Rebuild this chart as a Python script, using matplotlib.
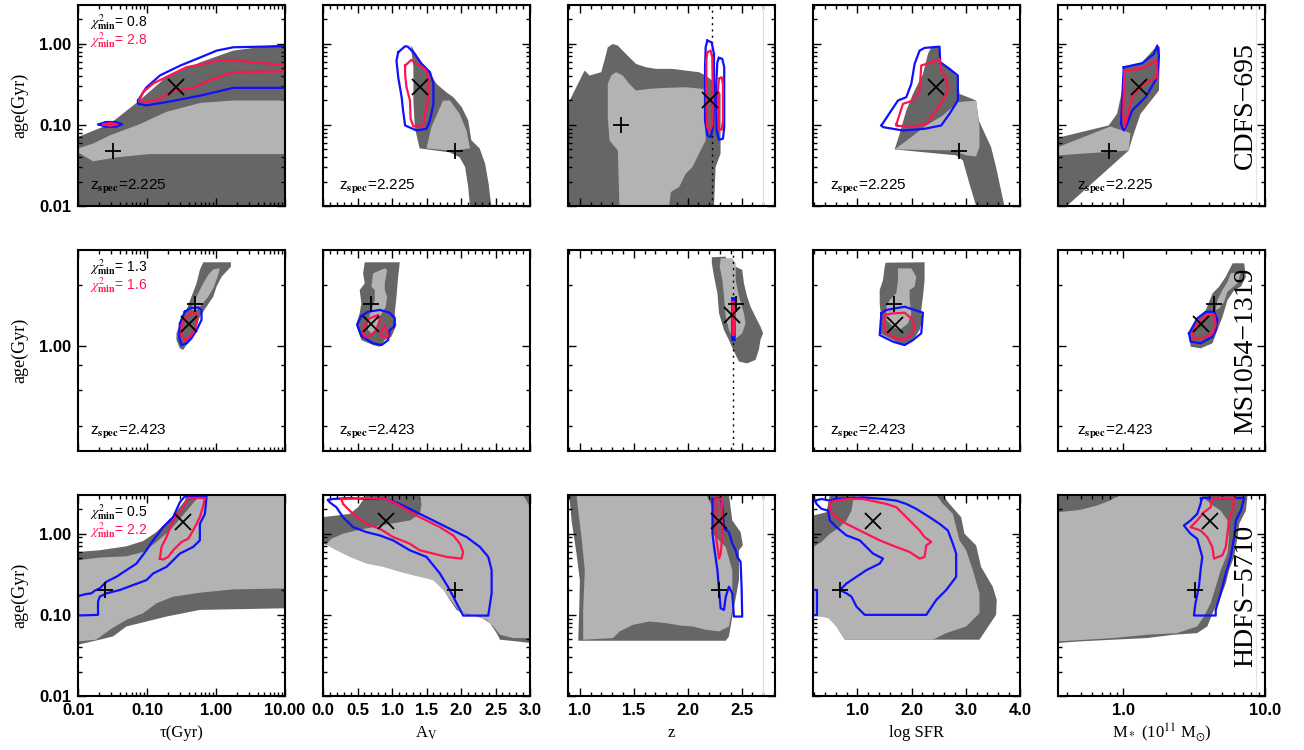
import numpy as np
import matplotlib.pyplot as plt

plt.rcParams['font.family'] = ['Liberation Sans', 'DejaVu Sans']
plt.rcParams['mathtext.fontset'] = 'stix'

# rows / columns of the figure
galaxies = ['CDFS\u2212695', 'MS1054\u22121319', 'HDFS\u22125710']
z_spec = [2.225, 2.423, None]
chi2_blue = [0.8, 1.3, 0.5]
chi2_red = [2.8, 1.6, 2.2]
params = ['tau', 'av', 'z', 'sfr', 'mass']
x_labels = ['\u03c4(Gyr)', r'A$_{\rm V}$', 'z', 'log SFR', r'M$_*$ (10$^{11}$ M$_{\odot}$)']

# best fit (x) and second solution (+)
tau_cross = [0.26, 0.40, 0.33]
tau_plus = [0.032, 0.49, 0.025]
av_cross = [1.40, 0.69, 0.91]
av_plus = [1.91, 0.70, 1.91]
z_cross = [2.21, 2.41, 2.29]
z_plus = [1.38, 2.45, 2.29]
sfr_cross = [2.45, 1.69, 1.28]
sfr_plus = [2.87, 1.68, 0.68]
mass_cross = [1.28, 3.56, 4.08]
mass_plus = [0.79, 4.37, 3.2]
age_cross = [[0.29, 0.29, 0.20, 0.29, 0.29],
             [1.29, 1.28, 1.43, 1.27, 1.29],
             [1.39, 1.43, 1.43, 1.43, 1.43]]
age_plus = [[0.048, 0.048, 0.10, 0.048, 0.048],
            [1.61, 1.61, 1.61, 1.61, 1.61],
            [0.20, 0.20, 0.20, 0.20, 0.20]]

# confidence regions. tau, mass and age are log10 values
# ---- CDFS-695
cdfs_tau_dark = [(-2, -1.15), (-1.54, -0.99), (-1.11, -0.70), (-0.72, -0.41), (-0.23, -0.23), (0.25, -0.085), (1.0, 0.0), (1.0, -2.0), (-2, -2.0)]
cdfs_tau_light = [(-2, -1.29), (-1.78, -1.23), (-1.54, -1.13), (-1.10, -0.99), (-0.72, -0.84), (-0.23, -0.73), (0.25, -0.70), (1.0, -0.70), (1.0, -1.36), (-0.23, -1.36), (-0.96, -1.36), (-1.44, -1.40), (-1.78, -1.45), (-2, -1.34)]
cdfs_tau_blue = [(-1.13, -0.70), (-1.01, -0.54), (-0.81, -0.39), (-0.52, -0.27), (-0.23, -0.17), (0.01, -0.085), (0.25, -0.044), (1.0, -0.03), (1.0, -0.544), (0.25, -0.544), (-0.23, -0.64), (-0.72, -0.72), (-1.01, -0.76), (-1.13, -0.74)]
cdfs_tau_blue2 = [(-1.70, -0.994), (-1.60, -0.965), (-1.45, -0.965), (-1.36, -0.994), (-1.45, -1.023), (-1.60, -1.023)]
cdfs_tau_red = [(-1.11, -0.70), (-1.06, -0.60), (-0.91, -0.49), (-0.67, -0.39), (-0.43, -0.29), (-0.19, -0.25), (0.01, -0.21), (0.25, -0.20), (0.54, -0.23), (1.0, -0.26), (1.0, -0.34), (0.25, -0.35), (-0.09, -0.45), (-0.33, -0.544), (-0.62, -0.58), (-0.81, -0.68), (-1.01, -0.72)]
cdfs_tau_red2 = [(-1.63, -0.994), (-1.53, -0.977), (-1.43, -0.994), (-1.53, -1.011)]

cdfs_av_dark = [(1.28, -0.023), (1.40, -0.21), (1.50, -0.29), (1.645, -0.495), (1.79, -0.60), (1.89, -0.66), (2.01, -0.78), (2.105, -0.946), (2.15, -1.19), (2.27, -1.29), (2.35, -1.48), (2.40, -1.725), (2.44, -2.0), (2.13, -2.0), (2.105, -1.77), (2.06, -1.52), (1.98, -1.40), (1.84, -1.34), (1.40, -1.29), (1.33, -1.03), (1.31, -0.70), (1.31, -0.29), (1.28, -0.085)]
cdfs_av_light = [(1.74, -0.70), (1.84, -0.70), (1.98, -0.864), (2.08, -1.07), (2.13, -1.29), (1.89, -1.32), (1.50, -1.29), (1.57, -1.03)]
cdfs_av_blue = [(1.09, -0.105), (1.19, -0.031), (1.23, -0.036), (1.33, -0.126), (1.43, -0.249), (1.55, -0.351), (1.60, -0.495), (1.60, -0.741), (1.55, -0.946), (1.50, -1.049), (1.355, -1.069), (1.19, -1.007), (1.16, -0.823), (1.14, -0.659), (1.09, -0.413), (1.065, -0.208)]
cdfs_av_red = [(1.19, -0.269), (1.28, -0.20), (1.355, -0.249), (1.48, -0.31), (1.52, -0.392), (1.52, -0.70), (1.48, -0.864), (1.45, -1.007), (1.31, -1.02), (1.27, -0.925), (1.26, -0.70), (1.21, -0.536), (1.19, -0.372)]

cdfs_z_dark = [(0.89, -2.0), (0.89, -0.741), (0.967, -0.536), (1.044, -0.331), (1.09, -0.392), (1.198, -0.351), (1.228, -0.208), (1.259, -0.044), (1.305, -0.003), (1.352, -0.023), (1.428, -0.126), (1.521, -0.249), (1.613, -0.29), (1.705, -0.31), (1.859, -0.31), (1.982, -0.331), (2.105, -0.351), (2.167, -0.392), (2.228, -0.454), (2.259, -0.495), (2.305, -0.618), (2.305, -1.356), (2.259, -1.52), (2.244, -2.0)]
cdfs_z_light = [(1.259, -0.495), (1.29, -0.392), (1.336, -0.351), (1.398, -0.392), (1.459, -0.495), (1.521, -0.577), (1.644, -0.556), (1.798, -0.544), (1.982, -0.536), (2.136, -0.556), (2.167, -0.577), (2.167, -1.192), (2.105, -1.356), (2.044, -1.52), (1.982, -1.602), (1.921, -1.766), (1.844, -1.828), (1.828, -2.0), (1.367, -2.0), (1.352, -1.315), (1.275, -1.192), (1.259, -0.905)]
cdfs_z_blue = [(2.182, 0.038), (2.222, 0.018), (2.244, -0.126), (2.244, -0.70), (2.235, -1.028), (2.213, -1.151), (2.182, -1.13), (2.161, -0.946), (2.161, -0.29), (2.167, -0.044)]
cdfs_z_blue2 = [(2.29, -0.175), (2.321, -0.187), (2.339, -0.29), (2.339, -1.028), (2.327, -1.171), (2.29, -1.184), (2.268, -1.069), (2.265, -0.495), (2.275, -0.228)]
cdfs_z_red = [(2.182, -0.105), (2.213, -0.085), (2.228, -0.167), (2.235, -0.70), (2.228, -1.007), (2.204, -1.069), (2.182, -1.028), (2.173, -0.70), (2.173, -0.208)]
cdfs_z_red2 = [(2.29, -0.433), (2.315, -0.413), (2.327, -0.495), (2.327, -0.946), (2.315, -1.061), (2.29, -1.049), (2.281, -0.823), (2.281, -0.577)]

cdfs_sfr_dark = [(2.362, -0.044), (2.515, -0.044), (2.546, -0.249), (2.73, -0.331), (2.853, -0.413), (2.883, -0.618), (3.19, -0.70), (3.239, -0.946), (3.466, -1.274), (3.558, -1.52), (3.65, -1.807), (3.712, -2.0), (3.19, -2.0), (3.067, -1.725), (2.945, -1.438), (2.822, -1.376), (1.687, -1.303), (1.779, -1.11), (1.902, -0.823), (2.025, -0.618), (2.209, -0.372), (2.301, -0.126)]
cdfs_sfr_light = [(1.687, -1.303), (1.994, -1.151), (2.27, -1.007), (2.577, -0.885), (2.853, -0.72), (3.19, -0.70), (3.252, -1.028), (3.252, -1.274), (3.19, -1.389), (3.006, -1.376), (2.761, -1.315)]
cdfs_sfr_blue = [(1.442, -1.007), (1.748, -0.70), (1.902, -0.659), (1.994, -0.495), (2.055, -0.249), (2.147, -0.085), (2.239, -0.052), (2.515, -0.036), (2.528, -0.228), (2.699, -0.31), (2.853, -0.392), (2.853, -0.70), (2.699, -0.864), (2.546, -1.007), (2.239, -1.049), (1.84, -1.069), (1.472, -1.028)]
cdfs_sfr_red = [(1.718, -0.995), (1.84, -0.741), (2.025, -0.70), (2.147, -0.577), (2.178, -0.269), (2.362, -0.228), (2.515, -0.187), (2.546, -0.331), (2.638, -0.413), (2.669, -0.577), (2.577, -0.70), (2.454, -0.823), (2.27, -0.987), (2.025, -1.02), (1.718, -1.011)]

cdfs_mass_dark = [(-0.462, -1.159), (-0.104, -1.007), (-0.045, -0.864), (-0.009, -0.577), (0.002, -0.29), (0.132, -0.228), (0.239, -0.023), (0.258, -0.044), (0.251, -0.577), (0.121, -0.864), (0.061, -1.171), (0.038, -1.315), (-0.40, -2.0), (-0.462, -2.0)]
cdfs_mass_light = [(-0.462, -1.274), (-0.092, -1.02), (0.050, -1.102), (0.038, -1.315), (-0.462, -1.376)]
cdfs_mass_blue = [(0.002, -0.29), (0.132, -0.241), (0.215, -0.126), (0.239, -0.023), (0.251, -0.146), (0.239, -0.413), (0.156, -0.659), (0.061, -0.823), (0.026, -0.987), (0.002, -1.069), (-0.017, -0.987), (-0.009, -0.70)]
cdfs_mass_red = [(0.007, -0.331), (0.132, -0.31), (0.234, -0.2), (0.239, -0.413), (0.144, -0.495), (0.061, -0.659), (0.026, -0.905), (0.007, -1.028), (-0.002, -0.864)]

# ---- MS1054-1319
ms_tau_dark = [(-0.185, 0.416), (0.216, 0.416), (0.216, 0.394), (0.081, 0.344), (0.008, 0.295), (-0.04, 0.245), (-0.137, 0.195), (-0.234, 0.145), (-0.282, 0.096), (-0.379, 0.029), (-0.476, -0.02), (-0.524, -0.012), (-0.573, 0.029), (-0.573, 0.063), (-0.50, 0.129), (-0.427, 0.179), (-0.355, 0.245), (-0.282, 0.311), (-0.234, 0.378)]
ms_tau_light = [(-0.04, 0.381), (0.057, 0.386), (0.032, 0.353), (-0.04, 0.286), (-0.113, 0.245), (-0.21, 0.203), (-0.282, 0.179), (-0.355, 0.179), (-0.331, 0.212), (-0.258, 0.262), (-0.185, 0.311), (-0.113, 0.353)]
ms_tau_blue = [(-0.452, 0.17), (-0.379, 0.187), (-0.258, 0.192), (-0.21, 0.179), (-0.21, 0.129), (-0.282, 0.079), (-0.355, 0.038), (-0.427, 0.013), (-0.50, 0.004), (-0.534, 0.046), (-0.524, 0.112)]
ms_tau_red = [(-0.427, 0.145), (-0.355, 0.162), (-0.282, 0.162), (-0.273, 0.129), (-0.306, 0.079), (-0.379, 0.046), (-0.452, 0.029), (-0.50, 0.054), (-0.50, 0.104)]

ms_av_dark = [(0.605, 0.416), (1.113, 0.416), (1.089, 0.344), (1.065, 0.245), (1.040, 0.162), (1.065, 0.104), (0.992, 0.046), (0.895, 0.029), (0.823, -0.004), (0.726, 0.004), (0.556, 0.029), (0.508, 0.079), (0.484, 0.112), (0.532, 0.162), (0.556, 0.212), (0.532, 0.278), (0.605, 0.311), (0.581, 0.361)]
ms_av_light = [(0.726, 0.361), (0.895, 0.386), (0.929, 0.378), (0.895, 0.311), (0.895, 0.278), (0.929, 0.245), (0.910, 0.195), (0.823, 0.145), (0.765, 0.079), (0.702, 0.063), (0.653, 0.079), (0.653, 0.129), (0.702, 0.179), (0.75, 0.228), (0.75, 0.278), (0.702, 0.295)]
ms_av_blue = [(0.556, 0.149), (0.653, 0.17), (0.823, 0.179), (0.968, 0.165), (1.040, 0.137), (1.031, 0.096), (0.968, 0.079), (0.944, 0.029), (0.847, 0.004), (0.726, 0.013), (0.556, 0.049), (0.494, 0.104)]
ms_av_red = [(0.605, 0.104), (0.677, 0.137), (0.798, 0.154), (0.823, 0.129), (0.774, 0.079), (0.702, 0.054), (0.605, 0.046), (0.581, 0.071)]
ms_av_red2 = [(0.895, 0.099), (0.929, 0.071), (0.944, 0.049), (0.847, 0.049), (0.847, 0.071)]

ms_z_dark = [(2.224, 0.441), (2.353, 0.444), (2.368, 0.411), (2.445, 0.394), (2.506, 0.378), (2.522, 0.311), (2.552, 0.245), (2.583, 0.195), (2.629, 0.145), (2.675, 0.096), (2.70, 0.063), (2.675, 0.029), (2.66, -0.02), (2.629, -0.07), (2.552, -0.087), (2.476, -0.078), (2.423, -0.02), (2.383, 0.029), (2.337, 0.079), (2.291, 0.162), (2.276, 0.262), (2.245, 0.344), (2.224, 0.411)]
ms_z_light = [(2.306, 0.436), (2.414, 0.436), (2.445, 0.411), (2.445, 0.328), (2.476, 0.245), (2.522, 0.162), (2.537, 0.112), (2.506, 0.063), (2.429, 0.029), (2.383, 0.079), (2.353, 0.145), (2.337, 0.245), (2.322, 0.328), (2.297, 0.394)]
ms_z_blue = [(2.414, 0.237), (2.432, 0.237), (2.436, 0.029), (2.414, 0.029)]
ms_z_red = [(2.417, 0.22), (2.429, 0.22), (2.429, 0.054), (2.417, 0.054)]

ms_sfr_dark = [(1.521, 0.414), (2.239, 0.416), (2.239, 0.328), (2.209, 0.245), (2.178, 0.179), (2.196, 0.129), (2.147, 0.079), (2.025, 0.029), (1.871, 0.004), (1.718, 0.021), (1.534, 0.046), (1.411, 0.063), (1.442, 0.129), (1.411, 0.212), (1.411, 0.278), (1.472, 0.328), (1.503, 0.394)]
ms_sfr_light = [(1.748, 0.386), (1.994, 0.386), (2.086, 0.344), (2.055, 0.295), (1.963, 0.278), (1.963, 0.228), (1.994, 0.162), (1.933, 0.112), (1.779, 0.079), (1.656, 0.096), (1.534, 0.129), (1.534, 0.195), (1.595, 0.228), (1.718, 0.262), (1.748, 0.328)]
ms_sfr_blue = [(1.442, 0.162), (1.534, 0.179), (1.871, 0.195), (2.209, 0.165), (2.178, 0.063), (2.025, 0.029), (1.871, 0.004), (1.656, 0.021), (1.411, 0.054)]
ms_sfr_red = [(1.503, 0.154), (1.656, 0.162), (1.871, 0.165), (2.025, 0.129), (2.055, 0.087), (1.963, 0.046), (1.779, 0.029), (1.534, 0.063), (1.485, 0.112)]

ms_mass_dark = [(0.771, 0.411), (0.853, 0.411), (0.865, 0.344), (0.830, 0.295), (0.783, 0.278), (0.735, 0.228), (0.70, 0.145), (0.664, 0.079), (0.629, 0.013), (0.546, -0.012), (0.475, -0.004), (0.463, 0.062), (0.522, 0.129), (0.582, 0.178), (0.629, 0.261), (0.676, 0.295), (0.723, 0.344)]
ms_mass_light = [(0.759, 0.361), (0.830, 0.369), (0.806, 0.311), (0.735, 0.27), (0.712, 0.22), (0.676, 0.187), (0.652, 0.178), (0.664, 0.228), (0.70, 0.278), (0.735, 0.319)]
ms_mass_blue = [(0.463, 0.062), (0.522, 0.137), (0.582, 0.17), (0.641, 0.17), (0.664, 0.129), (0.652, 0.079), (0.629, 0.046), (0.546, 0.013), (0.475, 0.021)]
ms_mass_red = [(0.487, 0.062), (0.534, 0.12), (0.593, 0.154), (0.641, 0.154), (0.652, 0.104), (0.629, 0.062), (0.558, 0.038), (0.499, 0.038)]

# ---- HDFS-5710
hdfs_tau_dark = [(-2, -0.225), (-1.685, -0.204), (-1.298, -0.155), (-1.056, -0.09), (-0.863, 0.02), (-0.621, 0.224), (-0.452, 0.408), (-0.427, 0.477), (1.0, 0.477), (1.0, -0.919), (0.25, -0.931), (-0.234, -0.939), (-0.718, -1.021), (-1.008, -1.082), (-1.298, -1.143), (-1.492, -1.266), (-1.685, -1.306), (-2, -1.368)]
hdfs_tau_light = [(-2, -0.327), (-1.685, -0.294), (-1.298, -0.278), (-1.056, -0.225), (-0.863, -0.102), (-0.669, 0.04), (-0.524, 0.183), (-0.379, 0.326), (-0.282, 0.428), (-0.282, 0.477), (1.0, 0.477), (1.0, -0.674), (0.25, -0.686), (-0.234, -0.727), (-0.621, -0.776), (-0.863, -0.857), (-1.056, -0.98), (-1.298, -1.061), (-1.54, -1.184), (-1.734, -1.306), (-2, -1.327)]
hdfs_tau_blue = [(-2, -0.768), (-1.879, -0.743), (-1.806, -0.735), (-1.758, -0.702), (-1.685, -0.674), (-1.589, -0.592), (-1.444, -0.531), (-1.298, -0.449), (-1.153, -0.368), (-1.008, -0.204), (-0.911, -0.082), (-0.766, 0.081), (-0.621, 0.204), (-0.524, 0.387), (-0.452, 0.46), (-0.137, 0.46), (-0.161, 0.244), (-0.234, 0.122), (-0.234, -0.082), (-0.331, -0.163), (-0.524, -0.245), (-0.718, -0.409), (-0.911, -0.49), (-1.008, -0.572), (-1.202, -0.633), (-1.395, -0.694), (-1.589, -0.735), (-1.685, -0.776), (-1.71, -0.837), (-1.71, -1.0), (-2, -1.008)]
hdfs_tau_red = [(-0.814, -0.307), (-0.79, -0.163), (-0.718, -0.041), (-0.621, 0.163), (-0.476, 0.326), (-0.403, 0.44), (-0.161, 0.44), (-0.185, 0.346), (-0.234, 0.204), (-0.331, 0.04), (-0.403, -0.062), (-0.50, -0.102), (-0.621, -0.204), (-0.693, -0.286), (-0.766, -0.319)]

hdfs_av_dark = [(0, 0.204), (0.194, 0.224), (0.387, 0.244), (0.508, 0.326), (0.629, 0.477), (3.0, 0.477), (3.0, -1.347), (2.807, -1.327), (2.565, -1.306), (2.516, -1.225), (2.42, -1.102), (2.274, -1.021), (2.081, -1.0), (1.936, -0.939), (1.839, -0.817), (1.694, -0.613), (1.50, -0.531), (1.307, -0.49), (1.065, -0.449), (0.823, -0.368), (0.581, -0.327), (0.29, -0.225), (0.145, -0.163), (0, -0.123)]
hdfs_av_light = [(0.048, -0.131), (0.121, -0.062), (0.29, 0.0), (0.484, 0.04), (0.726, 0.081), (0.968, 0.122), (1.258, 0.163), (1.403, 0.244), (1.428, 0.367), (1.403, 0.477), (2.903, 0.477), (3.0, 0.326), (3.0, -1.286), (2.758, -1.286), (2.565, -1.245), (2.468, -1.143), (2.371, -1.061), (2.178, -1.013), (1.984, -0.96), (1.887, -0.857), (1.742, -0.694), (1.597, -0.572), (1.355, -0.523), (1.113, -0.47), (0.871, -0.409), (0.629, -0.368), (0.387, -0.286), (0.242, -0.225), (0.121, -0.172)]
hdfs_av_blue = [(0.073, 0.416), (0.145, 0.428), (0.387, 0.44), (0.629, 0.428), (0.919, 0.428), (1.113, 0.367), (1.307, 0.285), (1.50, 0.204), (1.694, 0.122), (1.887, 0.04), (2.081, -0.041), (2.274, -0.163), (2.395, -0.286), (2.444, -0.449), (2.444, -0.735), (2.395, -1.009), (2.032, -1.009), (1.936, -0.857), (1.839, -0.694), (1.694, -0.49), (1.50, -0.286), (1.258, -0.204), (1.016, -0.082), (0.823, -0.021), (0.629, 0.02), (0.436, 0.081), (0.29, 0.204), (0.194, 0.326), (0.097, 0.387)]
hdfs_av_red = [(0.266, 0.428), (0.629, 0.44), (0.919, 0.428), (1.113, 0.346), (1.307, 0.244), (1.50, 0.163), (1.694, 0.081), (1.887, -0.021), (1.984, -0.123), (2.032, -0.225), (2.008, -0.307), (1.791, -0.286), (1.597, -0.245), (1.403, -0.204), (1.258, -0.123), (1.016, -0.041), (0.823, 0.061), (0.629, 0.122), (0.436, 0.244), (0.29, 0.367)]

hdfs_z_dark = [(0.902, 0.477), (2.383, 0.477), (2.414, 0.163), (2.491, 0.02), (2.512, -0.143), (2.476, -0.204), (2.476, -0.572), (2.414, -1.021), (2.383, -1.266), (2.353, -1.319), (0.985, -1.319), (0.994, -0.939), (1.0, -0.572), (0.969, -0.245), (0.923, 0.163)]
hdfs_z_light = [(0.969, 0.477), (2.174, 0.477), (2.23, 0.326), (2.23, 0.0), (2.353, -0.164), (2.414, -0.449), (2.414, -0.939), (2.383, -1.143), (2.291, -1.204), (2.168, -1.184), (2.045, -1.143), (1.953, -1.135), (1.799, -1.102), (1.646, -1.082), (1.492, -1.123), (1.369, -1.204), (1.307, -1.286), (1.031, -1.306), (1.031, -0.939), (1.046, -0.449), (1.015, -0.041), (0.985, 0.285)]
hdfs_z_blue = [(2.23, 0.428), (2.306, 0.44), (2.322, 0.326), (2.337, 0.061), (2.383, 0.02), (2.414, -0.123), (2.445, -0.204), (2.46, -0.286), (2.491, -0.347), (2.50, -0.653), (2.506, -1.021), (2.429, -1.021), (2.414, -0.735), (2.383, -0.653), (2.353, -0.776), (2.337, -0.939), (2.306, -0.919), (2.291, -0.694), (2.276, -0.449), (2.245, -0.164), (2.23, 0.0), (2.23, 0.163)]
hdfs_z_red = [(2.26, 0.428), (2.316, 0.428), (2.316, 0.244), (2.322, 0.0), (2.306, -0.245), (2.291, -0.307), (2.276, -0.164), (2.26, 0.0), (2.26, 0.244)]

hdfs_sfr_dark = [(0.18, 0.224), (0.429, 0.265), (0.491, 0.477), (2.577, 0.477), (2.699, 0.367), (2.914, 0.204), (2.975, 0.0), (3.19, -0.143), (3.282, -0.409), (3.497, -0.653), (3.571, -0.817), (3.558, -1.0), (3.252, -1.306), (0.767, -1.306), (0.613, -1.143), (0.491, -1.041), (0.276, -1.0), (0.18, -1.0)]
hdfs_sfr_light = [(0.982, 0.477), (2.454, 0.477), (2.577, 0.367), (2.761, 0.244), (2.822, 0.081), (2.883, -0.082), (3.006, -0.204), (3.129, -0.449), (3.252, -0.735), (3.252, -0.98), (3.006, -1.143), (2.638, -1.225), (2.393, -1.306), (0.767, -1.306), (0.613, -1.143), (0.46, -1.041), (0.18, -1.0), (0.18, -0.164), (0.337, -0.102), (0.491, 0.0), (0.675, 0.081), (0.798, 0.163), (0.89, 0.285), (0.92, 0.408)]
hdfs_sfr_blue = [(0.215, 0.408), (0.337, 0.428), (0.491, 0.408), (0.583, 0.428), (1.104, 0.448), (1.472, 0.428), (1.718, 0.408), (1.902, 0.367), (2.086, 0.306), (2.331, 0.204), (2.515, 0.122), (2.669, 0.04), (2.761, -0.123), (2.822, -0.245), (2.822, -0.531), (2.638, -0.694), (2.454, -0.817), (2.27, -1.0), (1.135, -1.0), (0.982, -0.898), (0.89, -0.776), (0.798, -0.735), (0.675, -0.694), (0.798, -0.613), (0.982, -0.531), (1.166, -0.449), (1.411, -0.368), (1.472, -0.307), (1.288, -0.245), (1.166, -0.164), (1.043, -0.082), (0.798, -0.021), (0.613, 0.081), (0.491, 0.163), (0.46, 0.285), (0.337, 0.306), (0.245, 0.367)]
hdfs_sfr_blue2 = [(0.18, -0.694), (0.245, -0.694), (0.245, -1.0), (0.18, -1.0)]
hdfs_sfr_red = [(0.491, 0.387), (0.613, 0.408), (0.798, 0.428), (1.104, 0.428), (1.534, 0.367), (1.718, 0.326), (2.025, 0.122), (2.147, 0.04), (2.239, -0.041), (2.362, -0.102), (2.27, -0.143), (2.239, -0.286), (2.147, -0.307), (1.963, -0.225), (1.718, -0.164), (1.411, -0.082), (1.227, -0.021), (1.043, 0.04), (0.798, 0.122), (0.613, 0.204), (0.521, 0.265), (0.491, 0.326)]

hdfs_mass_dark = [(-0.462, 0.477), (0.877, 0.477), (0.865, 0.285), (0.818, 0.122), (0.806, -0.041), (0.782, -0.286), (0.746, -0.449), (0.723, -0.613), (0.687, -0.776), (0.64, -0.939), (0.592, -1.143), (0.521, -1.225), (0.355, -1.245), (0.166, -1.286), (-0.071, -1.306), (-0.308, -1.327), (-0.462, -1.347)]
hdfs_mass_light = [(-0.462, 0.265), (-0.308, 0.293), (-0.19, 0.346), (-0.095, 0.408), (-0.024, 0.477), (0.545, 0.477), (0.616, 0.367), (0.687, 0.285), (0.735, 0.163), (0.746, -0.041), (0.735, -0.245), (0.687, -0.449), (0.652, -0.653), (0.616, -0.857), (0.569, -1.021), (0.521, -1.143), (0.379, -1.225), (0.166, -1.245), (-0.071, -1.286), (-0.462, -1.327)]
hdfs_mass_blue = [(0.55, 0.416), (0.545, 0.44), (0.853, 0.44), (0.829, 0.285), (0.794, 0.163), (0.782, -0.041), (0.758, -0.286), (0.723, -0.49), (0.687, -0.735), (0.652, -0.939), (0.652, -1.008), (0.498, -1.008), (0.509, -0.857), (0.533, -0.653), (0.545, -0.449), (0.557, -0.286), (0.521, -0.062), (0.474, 0.0), (0.427, 0.101), (0.474, 0.163), (0.521, 0.244), (0.545, 0.367)]
hdfs_mass_red = [(0.628, 0.44), (0.782, 0.44), (0.77, 0.285), (0.746, 0.163), (0.735, 0.0), (0.723, -0.164), (0.699, -0.266), (0.64, -0.307), (0.628, -0.164), (0.592, -0.041), (0.545, 0.04), (0.474, 0.081), (0.521, 0.163), (0.569, 0.265), (0.616, 0.326)]

# (dark, light, blue, red) per panel
shapes = [
    [([cdfs_tau_dark], [cdfs_tau_light], [cdfs_tau_blue, cdfs_tau_blue2], [cdfs_tau_red, cdfs_tau_red2]),
     ([cdfs_av_dark], [cdfs_av_light], [cdfs_av_blue], [cdfs_av_red]),
     ([cdfs_z_dark], [cdfs_z_light], [cdfs_z_blue, cdfs_z_blue2], [cdfs_z_red, cdfs_z_red2]),
     ([cdfs_sfr_dark], [cdfs_sfr_light], [cdfs_sfr_blue], [cdfs_sfr_red]),
     ([cdfs_mass_dark], [cdfs_mass_light], [cdfs_mass_blue], [cdfs_mass_red])],
    [([ms_tau_dark], [ms_tau_light], [ms_tau_blue], [ms_tau_red]),
     ([ms_av_dark], [ms_av_light], [ms_av_blue], [ms_av_red, ms_av_red2]),
     ([ms_z_dark], [ms_z_light], [ms_z_blue], [ms_z_red]),
     ([ms_sfr_dark], [ms_sfr_light], [ms_sfr_blue], [ms_sfr_red]),
     ([ms_mass_dark], [ms_mass_light], [ms_mass_blue], [ms_mass_red])],
    [([hdfs_tau_dark], [hdfs_tau_light], [hdfs_tau_blue], [hdfs_tau_red]),
     ([hdfs_av_dark], [hdfs_av_light], [hdfs_av_blue], [hdfs_av_red]),
     ([hdfs_z_dark], [hdfs_z_light], [hdfs_z_blue], [hdfs_z_red]),
     ([hdfs_sfr_dark], [hdfs_sfr_light], [hdfs_sfr_blue, hdfs_sfr_blue2], [hdfs_sfr_red]),
     ([hdfs_mass_dark], [hdfs_mass_light], [hdfs_mass_blue], [hdfs_mass_red])],
]
crosses = [tau_cross, av_cross, z_cross, sfr_cross, mass_cross]
pluses = [tau_plus, av_plus, z_plus, sfr_plus, mass_plus]

DARK = '#666666'
LIGHT = '#b3b3b3'
BLUE = '#1010ff'
RED = '#ff1450'

log_x = [True, False, False, False, True]
xlims = [(0.01, 10), (0.0, 3.0), (0.89, 2.81), (0.18, 4.0), (0.345, 10)]
x_major = [[0.01, 0.1, 1, 10], [0, 0.5, 1, 1.5, 2, 2.5, 3], [1.0, 1.5, 2.0, 2.5], [1, 2, 3, 4], [1, 10]]
x_major_lab = [['0.01', '0.10', '1.00', '10.00'], ['0.0', '0.5', '1.0', '1.5', '2.0', '2.5', '3.0'],
               ['1.0', '1.5', '2.0', '2.5'], ['1.0', '2.0', '3.0', '4.0'], ['1.0', '10.0']]
x_minor = [[k * 10.0 ** d for d in (-2, -1, 0) for k in range(2, 10)],
           list(np.arange(0.1, 3.0, 0.1)),
           list(np.arange(0.9, 2.81, 0.1)),
           list(np.arange(0.2, 4.0, 0.2)),
           [0.4, 0.5, 0.6, 0.7, 0.8, 0.9] + [k for k in range(2, 10)]]
ylims = [(0.01, 3.0), (0.3, 3.0), (0.01, 3.0)]
y_major = [[0.01, 0.1, 1.0], [1.0], [0.01, 0.1, 1.0]]
y_major_lab = [['0.01', '0.10', '1.00'], ['1.00'], ['0.01', '0.10', '1.00']]
y_minor_full = [k * 10.0 ** d for d in (-2, -1, 0) for k in range(2, 10) if k * 10.0 ** d < 3]
y_minor = [y_minor_full, [0.4, 0.6, 0.8, 2.0], y_minor_full]
zspec_x = [0.06, 0.075, None, 0.08, 0.09]

W, H = 1304, 750
tops = [5, 250, 495]

fig = plt.figure(figsize=(W / 100, H / 100), dpi=100)


def xy(poly, logx):
    xs = np.array([p[0] for p in poly] + [poly[0][0]], dtype=float)
    ys = 10 ** np.array([p[1] for p in poly] + [poly[0][1]], dtype=float)
    if logx:
        xs = 10 ** xs
    return xs, ys


for r in range(3):
    for c in range(5):
        ax = fig.add_axes([(78 + 245 * c) / W, 1 - (tops[r] + 201) / H, 207 / W, 201 / H])
        ax.set_yscale('log')
        if log_x[c]:
            ax.set_xscale('log')
        dark, light, blue, red = shapes[r][c]
        for poly in dark:
            ax.fill(*xy(poly, log_x[c]), color=DARK, lw=0, zorder=1)
        for poly in light:
            ax.fill(*xy(poly, log_x[c]), color=LIGHT, lw=0, zorder=2)
        if c == 2 and r != 1:
            ax.axvline(2.7, color='#dddddd', lw=0.8, zorder=2)
        if c == 4 and r != 1:
            ax.axvline(8.6, color='#e6e6e6', lw=0.8, zorder=2)
        if c == 2 and z_spec[r] is not None:
            ax.axvline(z_spec[r], color='k', ls=(0, (1.5, 3)), lw=1.0, zorder=3)
        for poly in blue:
            ax.plot(*xy(poly, log_x[c]), color=BLUE, lw=1.6, zorder=4)
        for poly in red:
            ax.plot(*xy(poly, log_x[c]), color=RED, lw=1.6, zorder=5)
        ax.plot(crosses[c][r], age_cross[r][c], marker='x', color='k', ms=11, mew=1.3, ls='none', zorder=6)
        ax.plot(pluses[c][r], age_plus[r][c], marker='+', color='k', ms=12, mew=1.3, ls='none', zorder=6)

        ax.set_xticks(x_major[c], labels=x_major_lab[c])
        ax.set_xticks(x_minor[c], minor=True)
        ax.set_yticks(y_major[r], labels=y_major_lab[r])
        ax.set_yticks(y_minor[r], minor=True)
        ax.xaxis.set_minor_formatter(plt.NullFormatter())
        ax.yaxis.set_minor_formatter(plt.NullFormatter())
        ax.set_xlim(*xlims[c])
        ax.set_ylim(*ylims[r])
        ax.tick_params(which='both', direction='in', top=True, right=True, width=1,
                       labelsize=12, pad=5, labelbottom=(r == 2), labelleft=(c == 0))
        ax.tick_params(which='major', length=6)
        ax.tick_params(which='minor', length=3)
        for lab in ax.get_xticklabels() + ax.get_yticklabels():
            lab.set_fontweight('bold')
        for sp in ax.spines.values():
            sp.set_linewidth(1.5)
            sp.set_zorder(10)

        if c == 0:
            ax.text(0.058, 0.917, r'$\chi^{2}_{\mathbf{min}}$= ' + f'{chi2_blue[r]:.1f}', transform=ax.transAxes,
                    fontsize=10, va='center', ha='left', color='k', zorder=7)
            ax.text(0.058, 0.824, r'$\chi^{2}_{\mathbf{min}}$= ' + f'{chi2_red[r]:.1f}', transform=ax.transAxes,
                    fontsize=10, va='center', ha='left', color=RED, zorder=7)
        if z_spec[r] is not None and c != 2:
            ax.text(zspec_x[c], 0.095, r'z$_{\mathbf{spec}}$=' + f'{z_spec[r]:.3f}', transform=ax.transAxes,
                    fontsize=11, va='center', ha='left', zorder=7)
        if c == 4:
            ax.text(0.905, 0.5, galaxies[r], rotation=90, transform=ax.transAxes, ha='center', va='center',
                    family='Liberation Serif', fontsize=20, zorder=7)
        if r == 2:
            fig.text((78 + 245 * c + 103.5) / W, 1 - 733 / H, x_labels[c], ha='center', va='center',
                     family='Liberation Serif', fontsize=12)
        if c == 0:
            fig.text(20 / W, 1 - (tops[r] + 100) / H, 'age(Gyr)', rotation=90, ha='center', va='center',
                     family='Liberation Serif', fontsize=13)

fig.savefig('out.png', dpi=100)
